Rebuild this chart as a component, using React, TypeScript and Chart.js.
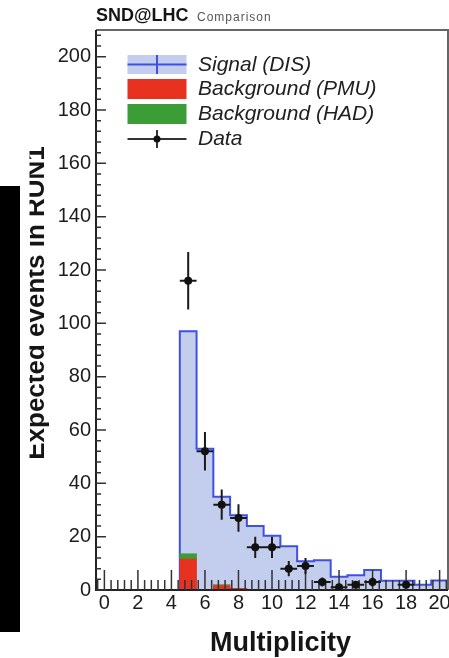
import React, { useEffect, useRef } from 'react';
import { Chart, registerables } from 'chart.js';

Chart.register(...registerables);

// ---- data ----
const bins = [0, 1, 2, 3, 4, 5, 6, 7, 8, 9, 10, 11, 12, 13, 14, 15, 16, 17, 18, 19, 20];
const signalDIS = [0, 0, 0, 0, 0, 97, 53, 35, 28, 24, 20.3, 16.4, 10.8, 11.2, 5, 5.5, 7.5, 3.5, 3.5, 2, 3.6];
const backgroundPMU = [0, 0, 0, 0, 0, 11.6, 0, 1.7, 0.6, 0, 0, 0, 0, 0, 0, 0, 0, 0, 0, 0, 0];
const backgroundHAD = [0, 0, 0, 0, 0, 2, 0, 0.3, 0, 0, 0, 0, 0, 0, 0, 0, 0, 0, 0, 0, 0];
const dataCounts = [0, 0, 0, 0, 0, 116, 52, 32, 27, 16, 16, 8, 9, 3, 1, 2, 3, 0, 2, 0, 0];
const xTickValues = [0, 2, 4, 6, 8, 10, 12, 14, 16, 18, 20];
const yTickValues = [0, 20, 40, 60, 80, 100, 120, 140, 160, 180, 200];
const seriesLabels = ['Signal (DIS)', 'Background (PMU)', 'Background (HAD)', 'Data'];
const headerMain = 'SND@LHC';
const headerSub = 'Comparison';
const xTitle = 'Multiplicity';
const yTitle = 'Expected events in RUN1';

const FONT = '"Liberation Sans", Arial, Helvetica, sans-serif';
const SIGNAL_FILL = '#c3cdee';
const SIGNAL_LINE = '#4150e2';
const PMU_COLOR = '#e6321f';
const HAD_COLOR = '#3c9c36';

const decorPlugin = {
  id: 'decor',
  beforeDraw(chart: any) {
    const ctx = chart.ctx;
    ctx.save();
    ctx.fillStyle = '#ffffff';
    ctx.fillRect(0, 0, chart.width, chart.height);
    // dark strip at the left edge
    ctx.fillStyle = '#000000';
    ctx.fillRect(0, 186, 20, 446);
    // header
    ctx.textAlign = 'left';
    ctx.textBaseline = 'alphabetic';
    ctx.fillStyle = '#151515';
    ctx.font = `bold 18px ${FONT}`;
    ctx.fillText(headerMain, 96, 21);
    ctx.fillStyle = '#555555';
    ctx.font = `12px ${FONT}`;
    (ctx as any).letterSpacing = '1px';
    ctx.fillText(headerSub, 197, 21);
    (ctx as any).letterSpacing = '0px';
    // y title (clipped on the left like the reference)
    ctx.save();
    ctx.beginPath();
    ctx.rect(29.5, 0, 60, chart.height);
    ctx.clip();
    ctx.translate(44, 303);
    ctx.rotate(-Math.PI / 2);
    ctx.textAlign = 'center';
    ctx.fillStyle = '#151515';
    ctx.font = `bold 26px ${FONT}`;
    ctx.fillText(yTitle, 0, 0);
    ctx.restore();
    // x title
    ctx.textAlign = 'center';
    ctx.fillStyle = '#151515';
    ctx.font = `bold 27px ${FONT}`;
    ctx.fillText(xTitle, 280.5, 651);
    ctx.restore();
  },
  beforeDatasetDraw(chart: any, args: any) {
    if (args.meta.type !== 'scatter') return;
    const ctx = chart.ctx;
    const { left, right, top, bottom } = chart.chartArea;
    const xs = chart.scales.x;
    const ys = chart.scales.y;
    ctx.save();
    // frame
    ctx.lineWidth = 2;
    ctx.strokeStyle = '#666666';
    ctx.beginPath();
    ctx.moveTo(left, top);
    ctx.lineTo(right, top);
    ctx.lineTo(right, bottom);
    ctx.stroke();
    ctx.strokeStyle = '#222222';
    ctx.beginPath();
    ctx.moveTo(left, top);
    ctx.lineTo(left, bottom);
    ctx.lineTo(right, bottom);
    ctx.stroke();
    // y ticks
    ctx.strokeStyle = '#333333';
    ctx.lineWidth = 1.5;
    const yStep = yTickValues[1] - yTickValues[0];
    const yMinor = yStep / 5;
    ctx.beginPath();
    for (let k = 0; k * yMinor <= ys.max + 1e-9; k++) {
      const py = ys.getPixelForValue(k * yMinor);
      const len = k % 5 === 0 ? 10 : 5;
      ctx.moveTo(left, py);
      ctx.lineTo(left + len, py);
    }
    ctx.stroke();
    // x ticks
    const xStep = xTickValues[1] - xTickValues[0];
    const xMinor = xStep / 5;
    ctx.beginPath();
    for (let k = Math.ceil(xs.min / xMinor - 1e-9); k * xMinor <= xs.max + 1e-9; k++) {
      const px = xs.getPixelForValue(k * xMinor);
      const len = k % 5 === 0 ? 20 : 10;
      ctx.moveTo(px, bottom);
      ctx.lineTo(px, bottom - len);
    }
    ctx.stroke();
    // error bars for data
    const ds = chart.data.datasets[args.index];
    ctx.beginPath();
    ctx.rect(left, top, right - left, bottom - top);
    ctx.clip();
    ctx.strokeStyle = '#1a1a1a';
    ctx.lineWidth = 2;
    ctx.beginPath();
    for (const p of ds.data) {
      const err = Math.sqrt(p.y);
      const px = xs.getPixelForValue(p.x);
      const py = ys.getPixelForValue(p.y);
      ctx.moveTo(px, ys.getPixelForValue(p.y - err));
      ctx.lineTo(px, ys.getPixelForValue(p.y + err));
      ctx.moveTo(xs.getPixelForValue(p.x - 0.5), py);
      ctx.lineTo(xs.getPixelForValue(p.x + 0.5), py);
    }
    ctx.stroke();
    ctx.restore();
  },
  afterDraw(chart: any) {
    const ctx = chart.ctx;
    const dsets = chart.data.datasets;
    const boxX = 127.5;
    const boxW = 59;
    const rows = [64.5, 89, 114, 139];
    const cx = boxX + boxW / 2;
    ctx.save();
    // signal
    ctx.fillStyle = dsets[0].backgroundColor;
    ctx.fillRect(boxX, rows[0] - 9.5, boxW, 19);
    ctx.strokeStyle = dsets[0].borderColor;
    ctx.lineWidth = 2;
    ctx.beginPath();
    ctx.moveTo(boxX, rows[0]);
    ctx.lineTo(boxX + boxW, rows[0]);
    ctx.moveTo(cx, rows[0] - 9.5);
    ctx.lineTo(cx, rows[0] + 9.5);
    ctx.stroke();
    // PMU
    ctx.fillStyle = dsets[1].backgroundColor;
    ctx.fillRect(boxX, rows[1] - 10, boxW, 20);
    // HAD
    ctx.fillStyle = dsets[2].backgroundColor;
    ctx.fillRect(boxX, rows[2] - 10, boxW, 20);
    // data
    ctx.strokeStyle = '#333333';
    ctx.lineWidth = 2;
    ctx.beginPath();
    ctx.moveTo(boxX, rows[3]);
    ctx.lineTo(boxX + boxW, rows[3]);
    ctx.moveTo(cx, rows[3] - 9);
    ctx.lineTo(cx, rows[3] + 9);
    ctx.stroke();
    ctx.fillStyle = '#111111';
    ctx.beginPath();
    ctx.arc(cx, rows[3], 3.5, 0, Math.PI * 2);
    ctx.fill();
    // labels
    ctx.fillStyle = '#202020';
    ctx.font = `italic 21px ${FONT}`;
    ctx.textAlign = 'left';
    ctx.textBaseline = 'middle';
    for (let i = 0; i < 4; i++) {
      ctx.fillText(dsets[i].label, 198, rows[i] + 0.5);
    }
    ctx.restore();
  },
};

export default function App() {
  const ref = useRef<HTMLCanvasElement>(null);
  useEffect(() => {
    const signalPoints = bins.map((b, i) => ({ x: b - 0.5, y: signalDIS[i] }));
    signalPoints.push({ x: bins[bins.length - 1] + 0.5, y: signalDIS[signalDIS.length - 1] });
    const pmuPoints = bins.map((b, i) => ({ x: b, y: backgroundPMU[i] }));
    const hadPoints = bins.map((b, i) => ({ x: b, y: backgroundHAD[i] }));
    const dataPoints = bins
      .map((b, i) => ({ x: b, y: dataCounts[i] }))
      .filter((p) => p.y > 0);

    const chart = new Chart(ref.current as HTMLCanvasElement, {
      type: 'bar',
      data: {
        datasets: [
          {
            type: 'line',
            label: seriesLabels[0],
            data: signalPoints,
            stepped: 'before',
            fill: 'origin',
            backgroundColor: SIGNAL_FILL,
            borderColor: SIGNAL_LINE,
            borderWidth: 2,
            pointRadius: 0,
            order: 3,
          },
          {
            type: 'bar',
            label: seriesLabels[1],
            data: pmuPoints,
            backgroundColor: PMU_COLOR,
            borderWidth: 0,
            barPercentage: 1,
            categoryPercentage: 1,
            stack: 'bg',
            order: 1,
          },
          {
            type: 'bar',
            label: seriesLabels[2],
            data: hadPoints,
            backgroundColor: HAD_COLOR,
            borderWidth: 0,
            barPercentage: 1,
            categoryPercentage: 1,
            stack: 'bg',
            order: 2,
          },
          {
            type: 'scatter',
            label: seriesLabels[3],
            data: dataPoints,
            backgroundColor: '#111111',
            borderWidth: 0,
            pointRadius: 4,
            order: 0,
          },
        ] as any,
      },
      options: {
        responsive: false,
        animation: false,
        devicePixelRatio: 1,
        events: [],
        layout: { padding: { top: 30, right: 1, bottom: 0, left: 0 } },
        plugins: { legend: { display: false }, tooltip: { enabled: false }, title: { display: false } },
        scales: {
          x: {
            type: 'linear',
            min: -0.5,
            max: 20.5,
            offset: false,
            grid: { display: false, drawTicks: false },
            border: { display: false },
            afterBuildTicks: (scale: any) => {
              scale.ticks = xTickValues.map((v) => ({ value: v }));
            },
            afterFit: (scale: any) => {
              scale.height = 68;
            },
            ticks: {
              autoSkip: false,
              maxRotation: 0,
              padding: 1,
              color: '#1c1c1c',
              font: { family: FONT, size: 20 },
              callback: (v: any) => String(v),
            },
          },
          y: {
            type: 'linear',
            min: 0,
            max: 210,
            stacked: true,
            grid: { display: false, drawTicks: false },
            border: { display: false },
            afterBuildTicks: (scale: any) => {
              scale.ticks = yTickValues.map((v) => ({ value: v }));
            },
            afterFit: (scale: any) => {
              scale.width = 96;
            },
            ticks: {
              padding: 5,
              color: '#1c1c1c',
              font: { family: FONT, size: 20 },
              callback: (v: any) => String(v),
            },
          },
        },
      } as any,
      plugins: [decorPlugin],
    });
    return () => chart.destroy();
  }, []);

  return (
    <div
      style={{
        position: 'fixed',
        left: 0,
        top: 0,
        width: 449,
        height: 658,
        overflow: 'hidden',
        background: '#ffffff',
      }}
    >
      <canvas ref={ref} width={452} height={658} style={{ display: 'block', width: 452, height: 658 }} />
    </div>
  );
}
